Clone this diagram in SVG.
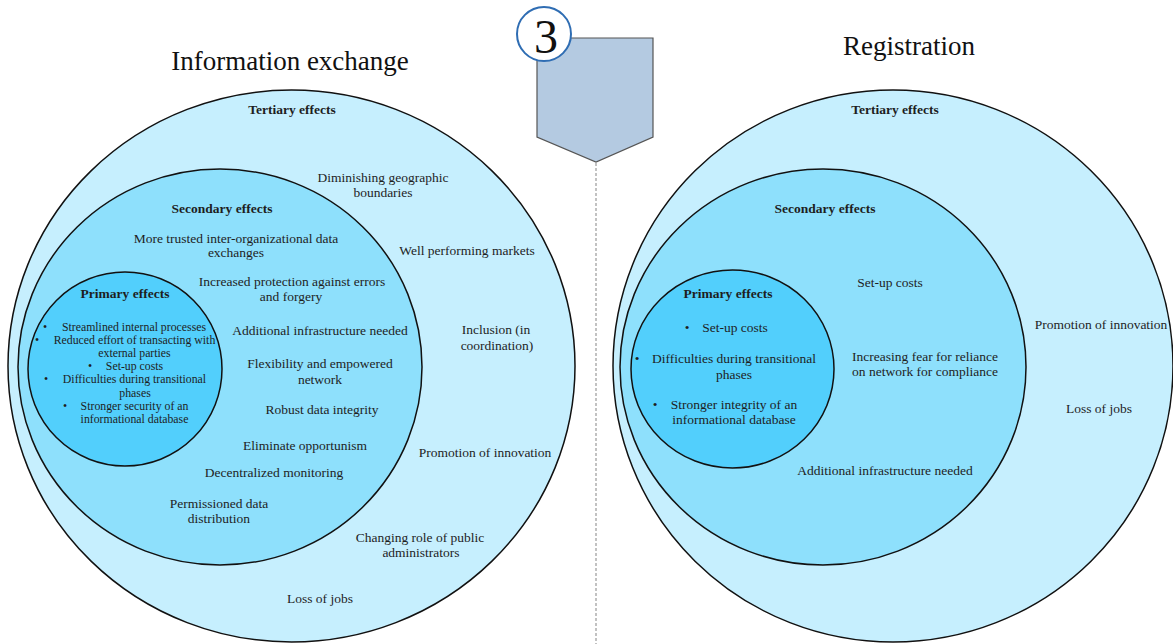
<svg xmlns="http://www.w3.org/2000/svg" width="1173" height="644" viewBox="0 0 1173 644">
<style>
text{font-family:"Liberation Serif","DejaVu Serif",serif;fill:#1e1e1e;text-anchor:middle}
.t{font-size:13.5px}
.h{font-size:13.5px;font-weight:bold}
.p{font-size:11.8px}
.title{font-size:27px;fill:#111}
.c3{fill:#c6effe;stroke:#111;stroke-width:1.5}
.c2{fill:#8ee0fc;stroke:#111;stroke-width:1.5}
.c1{fill:#52cffc;stroke:#111;stroke-width:1.5}
.dash{stroke:#9a9a9a;stroke-width:1.2;stroke-dasharray:3 2;fill:none}
</style>

<text class="title" x="290" y="70">Information exchange</text>
<text class="title" x="909" y="55">Registration</text>

<g id="connectors">
<line class="dash" x1="596" y1="163" x2="596" y2="644"/>
</g>

<g id="badge">
<polygon points="537,38 653,38 653,137 596,162 537,137" fill="#b4cae1" stroke="#555" stroke-width="1.2"/>
<circle cx="544" cy="34" r="27" fill="#fff" stroke="#2f6db3" stroke-width="2"/>
<text x="546" y="53" style="font-size:48px;fill:#111">3</text>
</g>

<g id="left-tertiary">
<ellipse class="c3" cx="291.5" cy="366" rx="283.5" ry="276"/>
<text class="h" x="292" y="114">Tertiary effects</text>
<text class="t" x="383" y="182">Diminishing geographic</text>
<text class="t" x="383" y="197">boundaries</text>
<text class="t" x="467" y="255">Well performing markets</text>
<text class="t" x="496" y="334">Inclusion (in</text>
<text class="t" x="497" y="350">coordination)</text>
<text class="t" x="485" y="457">Promotion of innovation</text>
<text class="t" x="420" y="542">Changing role of public</text>
<text class="t" x="421" y="557">administrators</text>
<text class="t" x="320" y="603">Loss of jobs</text>
</g>

<g id="left-secondary">
<ellipse class="c2" cx="220" cy="367" rx="202" ry="198"/>
<text class="h" x="222" y="213">Secondary effects</text>
<text class="t" x="236" y="243">More trusted inter-organizational data</text>
<text class="t" x="236" y="257">exchanges</text>
<text class="t" x="292" y="286">Increased protection against errors</text>
<text class="t" x="291" y="301">and forgery</text>
<text class="t" x="320" y="335">Additional infrastructure needed</text>
<text class="t" x="320" y="368">Flexibility and empowered</text>
<text class="t" x="320" y="384">network</text>
<text class="t" x="322" y="414">Robust data integrity</text>
<text class="t" x="305" y="450">Eliminate opportunism</text>
<text class="t" x="274" y="477">Decentralized monitoring</text>
<text class="t" x="219" y="508">Permissioned data</text>
<text class="t" x="219" y="523">distribution</text>
</g>

<g id="left-primary">
<ellipse class="c1" cx="125" cy="369" rx="97" ry="97"/>
<text class="h" x="125" y="298">Primary effects</text>
<text class="p" x="45" y="331">•</text>
<text class="p" x="134" y="331">Streamlined internal processes</text>
<text class="p" x="37" y="344">•</text>
<text class="p" x="134.5" y="344">Reduced effort of transacting with</text>
<text class="p" x="134.5" y="357">external parties</text>
<text class="p" x="90" y="370">•</text>
<text class="p" x="134.5" y="370">Set-up costs</text>
<text class="p" x="46" y="383">•</text>
<text class="p" x="134.5" y="383">Difficulties during transitional</text>
<text class="p" x="135" y="397">phases</text>
<text class="p" x="65" y="410">•</text>
<text class="p" x="134.5" y="410">Stronger security of an</text>
<text class="p" x="134.5" y="423">informational database</text>
</g>

<g id="right-tertiary">
<ellipse class="c3" cx="893" cy="366" rx="280" ry="276"/>
<text class="h" x="895" y="114">Tertiary effects</text>
<text class="t" x="1101" y="329">Promotion of innovation</text>
<text class="t" x="1099" y="413">Loss of jobs</text>
</g>

<g id="right-secondary">
<ellipse class="c2" cx="823" cy="367" rx="203" ry="198"/>
<text class="h" x="825" y="213">Secondary effects</text>
<text class="t" x="890" y="287">Set-up costs</text>
<text class="t" x="925" y="361">Increasing fear for reliance</text>
<text class="t" x="925" y="376">on network for compliance</text>
<text class="t" x="885" y="475">Additional infrastructure needed</text>
</g>

<g id="right-primary">
<ellipse class="c1" cx="732.5" cy="369" rx="101.5" ry="99"/>
<text class="h" x="728" y="298">Primary effects</text>
<text class="t" x="687" y="332">•</text>
<text class="t" x="735" y="332">Set-up costs</text>
<text class="t" x="637" y="363">•</text>
<text class="t" x="734" y="363">Difficulties during transitional</text>
<text class="t" x="734" y="379">phases</text>
<text class="t" x="655" y="409">•</text>
<text class="t" x="734" y="409">Stronger integrity of an</text>
<text class="t" x="734" y="424">informational database</text>
</g>
</svg>
